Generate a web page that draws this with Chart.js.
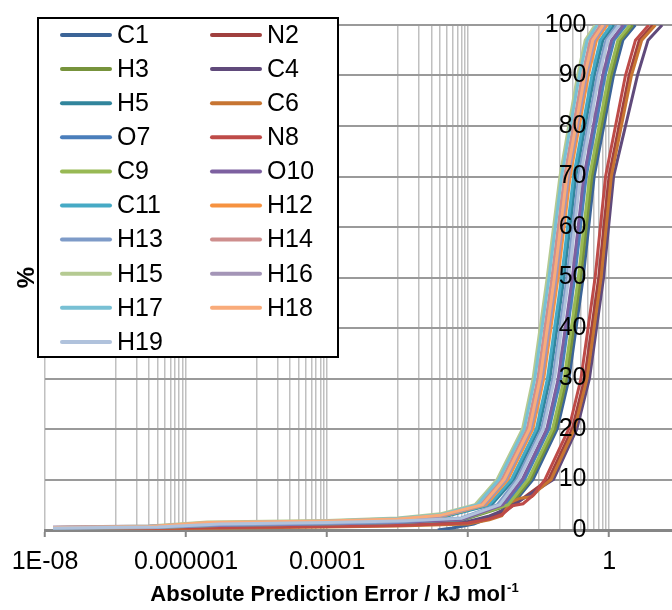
<!DOCTYPE html>
<html><head><meta charset="utf-8">
<script src="https://cdn.jsdelivr.net/npm/chart.js@4/dist/chart.umd.min.js"></script>
<style>html,body{margin:0;padding:0;background:#fff;overflow:hidden}#wrap{position:relative;width:672px;height:610px}</style>
</head><body><div id="wrap"><canvas id="c" width="672" height="610"></canvas></div>
<script>
// ---------- DATA ----------
const seriesNames = ['C1','N2','H3','C4','H5','C6','O7','N8','C9','O10','C11','H12','H13','H14','H15','H16','H17','H18','H19'];
const seriesColors = ['#3B6497','#A0403E','#77933C','#604A7B','#31859C','#C77532','#4A7EBB','#BE4B48','#98B954','#7D60A0','#46AAC5','#F69240','#7E9BC8','#CE8E8D','#B5CA92','#A495B7','#78C0D4','#F9AB7A','#B0C2DC'];

// absolute error (kJ/mol) and cumulative % for each series
const errC1  = [0.0037, 0.006, 0.012, 0.02, 0.042, 0.0832, 0.183, 0.269, 0.427, 0.611, 1.148, 1.563, 2.344];
const pctC1  = [0, 0.4, 1.2, 2.4, 5, 10, 20, 30, 50, 70, 90, 97, 100];
const errN2  = [1.3e-8, 1e-6, 1e-4, 1e-3, 0.01, 0.02, 0.03, 0.045, 0.07, 0.138, 0.299, 0.448, 0.710, 0.993, 1.910, 2.664, 4.140];
const pctN2  = [0.3, 0.5, 0.8, 1.0, 1.5, 2.4, 3.3, 5, 7, 10, 20, 30, 50, 70, 90, 97, 100];
const errH3  = [1.3e-8, 4e-7, 3e-6, 1e-4, 1e-3, 8e-3, 0.040, 0.0769, 0.170, 0.249, 0.394, 0.567, 1.062, 1.440, 2.148];
const pctH3  = [0.2, 0.4, 0.8, 1.0, 1.3, 1.9, 5, 10, 20, 30, 50, 70, 90, 97, 100];
const errC4  = [1.3e-8, 1e-6, 1e-4, 1e-3, 0.01, 0.02, 0.03, 0.05, 0.162, 0.347, 0.524, 0.830, 1.152, 2.512, 3.548, 5.623];
const pctC4  = [0.4, 0.6, 0.9, 1.1, 1.7, 2.8, 3.8, 5.5, 10, 20, 30, 50, 70, 90, 97, 100];
const errH5  = [1.3e-8, 3e-7, 2e-6, 1e-4, 1e-3, 4e-3, 0.0215, 0.0445, 0.0999, 0.144, 0.228, 0.336, 0.614, 0.811, 1.164];
const pctH5  = [0.3, 0.6, 1.0, 1.4, 1.8, 2.4, 5, 10, 20, 30, 50, 70, 90, 97, 100];
const errC6  = [1.3e-8, 1e-6, 1e-4, 1e-3, 0.01, 0.02, 0.03, 0.04, 0.055, 0.08, 0.10, 0.150, 0.322, 0.484, 0.767, 1.069, 2.065, 2.891, 4.519];
const pctC6  = [0.2, 0.3, 0.6, 0.8, 1.2, 2.0, 2.8, 5.5, 6.3, 6.6, 8, 10, 20, 30, 50, 70, 90, 97, 100];
const errO7  = [1.3e-8, 4e-7, 3e-6, 1e-4, 1e-3, 8e-3, 0.034, 0.0632, 0.140, 0.205, 0.324, 0.471, 0.873, 1.173, 1.726];
const pctO7  = [0.3, 0.5, 0.8, 1.1, 1.4, 2.0, 5, 10, 20, 30, 50, 70, 90, 97, 100];
const errN8  = [1.3e-8, 1e-6, 1e-4, 1e-3, 0.01, 0.02, 0.03, 0.042, 0.06, 0.085, 0.123, 0.267, 0.398, 0.631, 0.887, 1.698, 2.355, 3.631];
const pctN8  = [0.2, 0.4, 0.7, 0.9, 1.4, 2.2, 3.0, 4.8, 5.2, 7, 10, 20, 30, 50, 70, 90, 97, 100];
const errC9  = [1.3e-8, 4e-7, 3e-6, 1e-4, 1e-3, 8e-3, 0.037, 0.0711, 0.157, 0.230, 0.365, 0.526, 0.982, 1.327, 1.968];
const pctC9  = [0.3, 0.5, 0.9, 1.2, 1.5, 2.1, 5, 10, 20, 30, 50, 70, 90, 97, 100];
const errO10 = [1.3e-8, 4e-7, 3e-6, 1e-4, 1e-3, 8e-3, 0.031, 0.0585, 0.130, 0.189, 0.300, 0.437, 0.807, 1.081, 1.581];
const pctO10 = [0.5, 0.6, 0.9, 1.2, 1.5, 2.1, 5, 10, 20, 30, 50, 70, 90, 97, 100];
const errC11 = [1.3e-8, 3e-7, 2e-6, 1e-4, 1e-3, 4e-3, 0.0200, 0.0411, 0.0926, 0.133, 0.211, 0.312, 0.568, 0.747, 1.067];
const pctC11 = [0.4, 0.6, 1.1, 1.5, 1.9, 2.5, 5, 10, 20, 30, 50, 70, 90, 97, 100];
const errH12 = [1.3e-8, 3e-7, 2e-6, 1e-4, 1e-3, 4e-3, 0.0180, 0.0366, 0.0827, 0.118, 0.188, 0.279, 0.505, 0.661, 0.935];
const pctH12 = [0.5, 0.7, 1.3, 1.7, 2.1, 2.6, 5, 10, 20, 30, 50, 70, 90, 97, 100];
const errH13 = [1.3e-8, 4e-7, 3e-6, 1e-4, 1e-3, 8e-3, 0.026, 0.049, 0.110, 0.159, 0.252, 0.369, 0.677, 0.899, 1.299];
const pctH13 = [0.3, 0.5, 1.0, 1.3, 1.6, 2.4, 5, 10, 20, 30, 50, 70, 90, 97, 100];
const errH14 = [1.3e-8, 3e-7, 2e-6, 1e-4, 1e-3, 4e-3, 0.0150, 0.0301, 0.0685, 0.0972, 0.154, 0.232, 0.415, 0.539, 0.752];
const pctH14 = [0.4, 0.6, 1.3, 1.7, 2.1, 2.8, 5, 10, 20, 30, 50, 70, 90, 97, 100];
const errH15 = [1.3e-8, 3e-7, 2e-6, 1e-4, 1e-3, 4e-3, 0.0125, 0.0257, 0.0589, 0.0832, 0.132, 0.200, 0.355, 0.457, 0.631];
const pctH15 = [0.5, 0.8, 1.6, 1.9, 2.4, 3.2, 5, 10, 20, 30, 50, 70, 90, 97, 100];
const errH16 = [1.3e-8, 3e-7, 2e-6, 1e-4, 1e-3, 4e-3, 0.0170, 0.0345, 0.0782, 0.112, 0.177, 0.264, 0.476, 0.622, 0.876];
const pctH16 = [0.6, 0.8, 1.2, 1.6, 2.0, 2.7, 5, 10, 20, 30, 50, 70, 90, 97, 100];
const errH17 = [1.3e-8, 3e-7, 2e-6, 1e-4, 1e-3, 4e-3, 0.0135, 0.0273, 0.0623, 0.0882, 0.140, 0.211, 0.376, 0.486, 0.674];
const pctH17 = [0.4, 0.7, 1.4, 1.8, 2.3, 3.0, 5, 10, 20, 30, 50, 70, 90, 97, 100];
const errH18 = [1.3e-8, 3e-7, 2e-6, 1e-4, 1e-3, 4e-3, 0.0160, 0.0325, 0.0739, 0.105, 0.167, 0.250, 0.449, 0.585, 0.820];
const pctH18 = [0.5, 0.7, 1.5, 1.8, 2.2, 2.9, 5, 10, 20, 30, 50, 70, 90, 97, 100];
const errH19 = [1.3e-8, 4e-7, 3e-6, 1e-4, 1e-3, 8e-3, 0.028, 0.052, 0.116, 0.168, 0.267, 0.390, 0.718, 0.955, 1.387];
const pctH19 = [0.4, 0.6, 1.2, 1.5, 1.8, 2.3, 5, 10, 20, 30, 50, 70, 90, 97, 100];

const seriesErr = [errC1, errN2, errH3, errC4, errH5, errC6, errO7, errN8, errC9, errO10, errC11, errH12, errH13, errH14, errH15, errH16, errH17, errH18, errH19];
const seriesPct = [pctC1, pctN2, pctH3, pctC4, pctH5, pctC6, pctO7, pctN8, pctC9, pctO10, pctC11, pctH12, pctH13, pctH14, pctH15, pctH16, pctH17, pctH18, pctH19];

const xTickValues = [1e-8, 1e-6, 1e-4, 1e-2, 1];
const xTickLabels = ['1E-08', '0.000001', '0.0001', '0.01', '1'];
const xMinorDecades = [1e-7, 1e-5, 1e-3, 1e-1];
const xTitle = 'Absolute Prediction Error / kJ mol';
const xTitleSup = '-1';
const yTitle = '%';

// ---------- CHART ----------
const FONT = '"Liberation Sans", Arial, sans-serif';
const gridValues = [];
xTickValues.forEach(v => gridValues.push(v));
xMinorDecades.forEach(d => { for (let k = 1; k <= 9; k++) gridValues.push(k * d); });
gridValues.sort((a, b) => a - b);

function sameVal(a, b) { return Math.abs(Math.log10(a) - Math.log10(b)) < 1e-6; }
function majorIndex(v) { return xTickValues.findIndex(t => sameVal(t, v)); }

const datasets = seriesNames.map((n, i) => ({
  label: n,
  data: seriesErr[i].map((x, j) => ({ x: x, y: seriesPct[i][j] })),
  borderColor: seriesColors[i],
  backgroundColor: seriesColors[i],
  borderWidth: 3,
  pointRadius: 0,
  tension: 0,
  fill: false,
  order: -i
}));

const legendPlugin = {
  id: 'boxLegend',
  afterDraw(chart) {
    const c = chart.ctx;
    c.save();
    c.fillStyle = '#fff';
    c.fillRect(38, 18, 300, 339);
    c.strokeStyle = '#000';
    c.lineWidth = 2;
    c.strokeRect(38, 18, 300, 339);
    c.font = '25px ' + FONT;
    c.textBaseline = 'middle';
    c.textAlign = 'left';
    chart.data.datasets.forEach((ds, i) => {
      const col = i % 2, row = Math.floor(i / 2);
      const lx = col ? 210 : 60;
      const ly = 35 + row * 34.1;
      c.strokeStyle = ds.borderColor;
      c.lineWidth = 4;
      c.lineCap = 'round';
      c.beginPath(); c.moveTo(lx + 2, ly); c.lineTo(lx + 50, ly); c.stroke();
      c.fillStyle = '#000';
      c.fillText(ds.label, lx + 57, ly + 1);
    });
    c.restore();
  }
};

const titlePlugin = {
  id: 'axisTitles',
  afterDraw(chart) {
    const c = chart.ctx;
    c.save();
    c.fillStyle = '#000';
    c.font = 'bold 22px ' + FONT;
    const w1 = c.measureText(xTitle).width;
    c.font = 'bold 13px ' + FONT;
    const w2 = c.measureText(xTitleSup).width;
    const x0 = chart.width / 2 - (w1 + w2) / 2 - 2;
    const base = 601;
    c.textAlign = 'left';
    c.textBaseline = 'alphabetic';
    c.font = 'bold 22px ' + FONT;
    c.fillText(xTitle, x0, base);
    c.font = 'bold 13px ' + FONT;
    c.fillText(xTitleSup, x0 + w1 + 1, base - 9);
    // y title
    c.translate(27, (chart.chartArea.top + chart.chartArea.bottom) / 2);
    c.rotate(-Math.PI / 2);
    c.font = 'bold 24px ' + FONT;
    c.textAlign = 'center';
    c.textBaseline = 'middle';
    c.fillText(yTitle, 0, 0);
    c.restore();
  }
};

new Chart(document.getElementById('c'), {
  type: 'line',
  data: { datasets },
  options: {
    responsive: false,
    animation: false,
    layout: { padding: { left: 45, top: 25, right: 0, bottom: 23 } },
    scales: {
      x: {
        type: 'logarithmic',
        min: 1e-8,
        max: 7.76,
        afterBuildTicks: (s) => { s.ticks = gridValues.map(v => ({ value: v })); },
        ticks: {
          autoSkip: false, maxRotation: 0, minRotation: 0,
          padding: 10, color: '#000',
          font: { family: FONT, size: 25 },
          callback: (v) => { const k = majorIndex(v); return k >= 0 ? xTickLabels[k] : ''; }
        },
        grid: {
          color: '#C0C0C0',
          lineWidth: 1.5,
          tickLength: 7,
          tickWidth: 2,
          tickColor: (ctx) => (ctx.tick && majorIndex(ctx.tick.value) >= 0) ? '#868686' : 'rgba(0,0,0,0)'
        },
        border: { color: '#868686', width: 3 }
      },
      y: {
        type: 'linear',
        min: 0, max: 100,
        // vertical axis crosses the x axis near 1; labels sit just left of that line
        position: { x: 0.475 },
        ticks: { stepSize: 10, padding: 0, z: 1, color: '#000', font: { family: FONT, size: 25 } },
        grid: {
          color: (ctx) => (ctx.tick && ctx.tick.value === 0) ? 'rgba(0,0,0,0)' : '#9A9A9A',
          lineWidth: 2,
          drawTicks: false
        },
        border: { display: false }
      }
    },
    plugins: { legend: { display: false }, tooltip: { enabled: false } }
  },
  plugins: [titlePlugin, legendPlugin]
});
</script>
</body></html>
